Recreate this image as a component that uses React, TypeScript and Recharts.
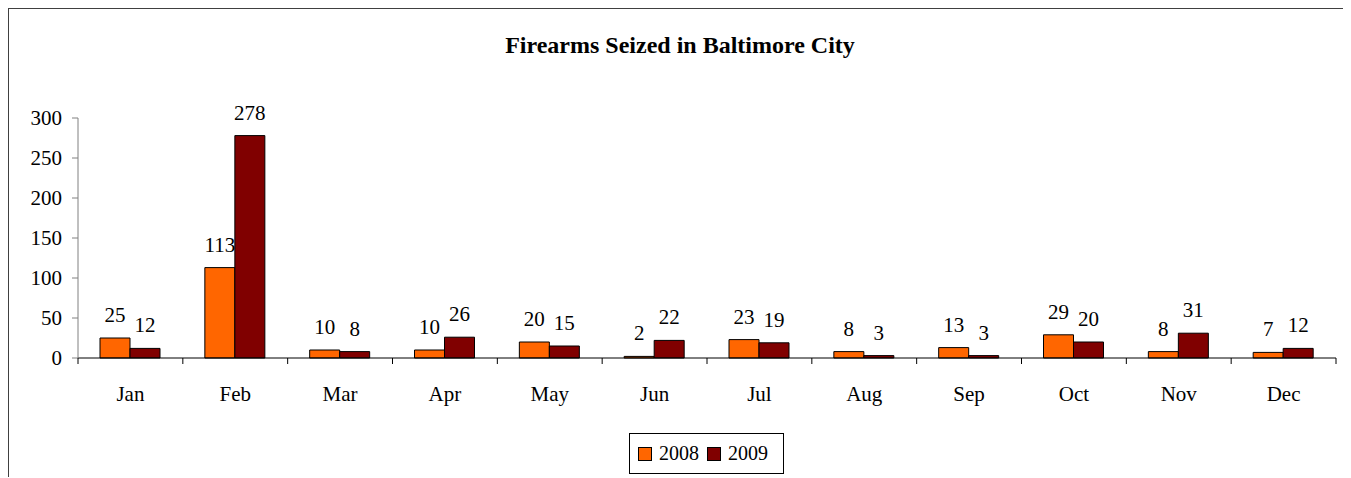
import React from 'react';
import { BarChart, Bar, XAxis, YAxis, LabelList } from 'recharts';

const MONTHS = ['Jan', 'Feb', 'Mar', 'Apr', 'May', 'Jun', 'Jul', 'Aug', 'Sep', 'Oct', 'Nov', 'Dec'];
const SEIZED_2008 = [25, 113, 10, 10, 20, 2, 23, 8, 13, 29, 8, 7];
const SEIZED_2009 = [12, 278, 8, 26, 15, 22, 19, 3, 3, 20, 31, 12];
const Y_TICKS = [0, 50, 100, 150, 200, 250, 300];

const COLORS = {
  y2008: '#FF6600', // orange
  y2009: '#800000', // maroon
};

const FONT = "'Liberation Serif', 'Times New Roman', serif";

const data = MONTHS.map((month, i) => ({
  month,
  '2008': SEIZED_2008[i],
  '2009': SEIZED_2009[i],
}));

const TICK_SIZE = 6;
const TICK_MARGIN = 22;

// category label plus the boundary tick marks between months
const MonthTick = (props: any) => {
  const { x, y, payload, index } = props;
  const half = payload.offset || 0;
  const axisY = y - TICK_MARGIN - TICK_SIZE;
  return (
    <g>
      <line x1={x - half} x2={x - half} y1={axisY} y2={axisY + TICK_SIZE} stroke="#000" />
      {index === MONTHS.length - 1 && (
        <line x1={x + half} x2={x + half} y1={axisY} y2={axisY + TICK_SIZE} stroke="#000" />
      )}
      <text x={x} y={y} dy="0.71em" textAnchor="middle" fill="#000" fontSize={21} fontFamily={FONT}>
        {payload.value}
      </text>
    </g>
  );
};

const LegendSwatch = ({ color, label }: { color: string; label: string }) => (
  <span style={{ display: 'inline-flex', alignItems: 'center', marginRight: 8 }}>
    <span
      style={{
        display: 'inline-block',
        width: 12,
        height: 12,
        background: color,
        border: '1px solid #000',
        marginRight: 7,
      }}
    />
    <span>{label}</span>
  </span>
);

export default function App() {
  return (
    <div
      style={{
        position: 'relative',
        width: 1342,
        height: 468,
        marginLeft: -1,
        marginTop: -1,
        borderLeft: '2px solid #404040',
        borderTop: '2px solid #404040',
        fontFamily: FONT,
        overflow: 'hidden',
      }}
    >
      <div
        style={{
          position: 'absolute',
          top: 23,
          left: 0,
          width: 1342,
          textAlign: 'center',
          fontWeight: 'bold',
          fontSize: 24,
          lineHeight: '26px',
        }}
      >
        Firearms Seized in Baltimore City
      </div>
      <BarChart
        width={1342}
        height={468}
        data={data}
        margin={{ top: 109, right: 15, left: 0, bottom: 79 }}
        barCategoryGap="21%"
        barGap={0}
      >
        <XAxis
          dataKey="month"
          height={40}
          axisLine={{ stroke: '#000' }}
          tickLine={false}
          tickSize={TICK_SIZE}
          tickMargin={TICK_MARGIN}
          interval={0}
          tick={<MonthTick />}
        />
        <YAxis
          width={69}
          domain={[0, 300]}
          ticks={Y_TICKS}
          interval={0}
          axisLine={{ stroke: '#808080' }}
          tickLine={{ stroke: '#808080' }}
          tickSize={6}
          tickMargin={10}
          tick={{ fill: '#000', fontSize: 21, fontFamily: FONT }}
        />
        <Bar dataKey="2008" fill={COLORS.y2008} stroke="#000" strokeWidth={1} isAnimationActive={false}>
          <LabelList dataKey="2008" position="top" offset={16} fill="#000" fontSize={21} fontFamily={FONT} />
        </Bar>
        <Bar dataKey="2009" fill={COLORS.y2009} stroke="#000" strokeWidth={1} isAnimationActive={false}>
          <LabelList dataKey="2009" position="top" offset={16} fill="#000" fontSize={21} fontFamily={FONT} />
        </Bar>
      </BarChart>
      <div
        style={{
          position: 'absolute',
          left: 620,
          top: 424,
          width: 155,
          height: 41,
          border: '1px solid #000',
          boxSizing: 'border-box',
          display: 'flex',
          alignItems: 'center',
          paddingLeft: 8,
          fontSize: 20,
        }}
      >
        <LegendSwatch color={COLORS.y2008} label="2008" />
        <LegendSwatch color={COLORS.y2009} label="2009" />
      </div>
    </div>
  );
}
